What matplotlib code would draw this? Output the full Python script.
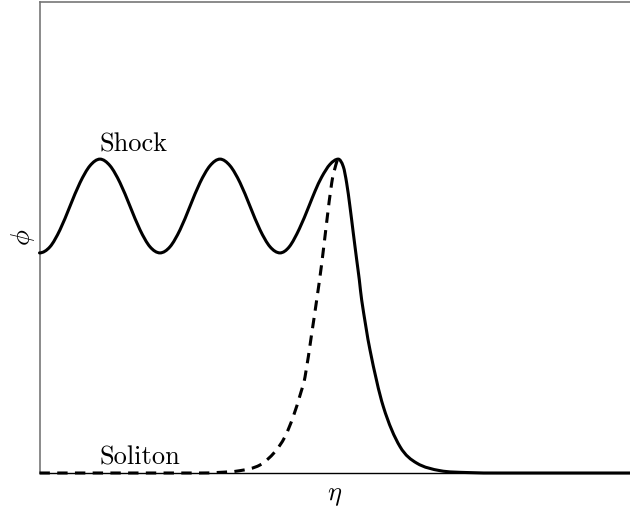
import numpy as np
import matplotlib
matplotlib.use("Agg")
import matplotlib.pyplot as plt
from matplotlib.path import Path
from matplotlib.patches import PathPatch

plt.rcParams['mathtext.fontset'] = 'cm'
plt.rcParams['font.family'] = 'serif'
plt.rcParams['font.serif'] = ['cmr10', 'DejaVu Serif']
plt.rcParams['axes.unicode_minus'] = False

# ---- data ----
shock_eta = [0.0, 0.178, 0.347, 0.516, 0.686, 0.855, 1.024, 1.194, 1.363, 1.533,
             1.702, 1.871, 2.041, 2.210, 2.380, 2.549, 2.718, 2.888, 3.057, 3.226,
             3.396, 3.565, 3.734, 3.904, 4.073, 4.230, 4.400, 4.569, 4.666, 4.779,
             4.920, 5.060, 5.145, 5.202, 5.258, 5.314, 5.372, 5.416, 5.456, 5.597,
             5.822, 6.105, 6.388, 6.782, 7.235, 7.806, 10.0]
shock_phi = [0.467, 0.480, 0.516, 0.566, 0.616, 0.652, 0.666, 0.652, 0.616, 0.566,
             0.516, 0.480, 0.467, 0.480, 0.516, 0.566, 0.616, 0.652, 0.666, 0.652,
             0.616, 0.566, 0.516, 0.480, 0.467, 0.480, 0.518, 0.568, 0.598, 0.628,
             0.655, 0.666, 0.650, 0.615, 0.565, 0.509, 0.452, 0.410, 0.367, 0.261,
             0.141, 0.056, 0.021, 0.005, 0.001, 0.0, 0.0]

soliton_eta = [0.0, 2.718, 3.001, 3.396, 3.734, 3.988, 4.157, 4.298, 4.429, 4.497,
               4.610, 4.694, 4.779, 4.864, 4.948, 5.004, 5.060]
soliton_phi = [0.0, 0.0, 0.001, 0.005, 0.017, 0.045, 0.077, 0.120, 0.172, 0.204,
               0.296, 0.367, 0.444, 0.533, 0.615, 0.647, 0.666]

labels = {"Shock": (1.02, 0.682), "Soliton": (1.02, 0.017)}


def smooth_path(x, y):
    """Cubic through the read points (drawing only)."""
    x = np.asarray(x, float)
    y = np.asarray(y, float)
    n = len(x)
    m = np.zeros(n)
    for i in range(1, n - 1):
        lo = min(y[i - 1], y[i], y[i + 1])
        hi = max(y[i - 1], y[i], y[i + 1])
        if (y[i] == hi or y[i] == lo) and hi > lo:
            m[i] = 0.0
        else:
            m[i] = (y[i + 1] - y[i - 1]) / (x[i + 1] - x[i - 1])
    m[0] = 0.0
    m[-1] = 0.0
    verts = [(x[0], y[0])]
    codes = [Path.MOVETO]
    for i in range(n - 1):
        h = x[i + 1] - x[i]
        verts += [(x[i] + h / 3, y[i] + m[i] * h / 3),
                  (x[i + 1] - h / 3, y[i + 1] - m[i + 1] * h / 3),
                  (x[i + 1], y[i + 1])]
        codes += [Path.CURVE4] * 3
    return Path(verts, codes)


fig = plt.figure(figsize=(6.3, 5.13), dpi=100)
ax = fig.add_axes([39.5 / 630, 40 / 513, 1 - 39.5 / 630, (473 - 1.7) / 513])

sol = PathPatch(smooth_path(soliton_eta, soliton_phi), fill=False,
                edgecolor='black', linewidth=2.2, linestyle=(0, (3.4, 2.4)),
                capstyle='butt', zorder=3)
sho = PathPatch(smooth_path(shock_eta, shock_phi), fill=False,
                edgecolor='black', linewidth=2.2, zorder=4,
                capstyle='round', joinstyle='round')
for p in (sol, sho):
    ax.add_patch(p)
    p.set_clip_on(False)

ax.set_xlim(0, 10)
ax.set_ylim(0, 1)
ax.set_xticks([])
ax.set_yticks([])
for s in ['left', 'top']:
    ax.spines[s].set_color('#777777')
    ax.spines[s].set_linewidth(1.2)
ax.spines['right'].set_visible(False)
ax.spines['bottom'].set_color('black')
ax.spines['bottom'].set_linewidth(1.0)

for txt, (ex, ph) in labels.items():
    ax.text(ex, ph, txt, fontsize=19, ha='left', va='baseline')

ax.set_xlabel(r'$\eta$', fontsize=19, labelpad=8)
ax.set_ylabel(r'$\phi$', fontsize=19, labelpad=2)

fig.savefig('out.png', dpi=100)
